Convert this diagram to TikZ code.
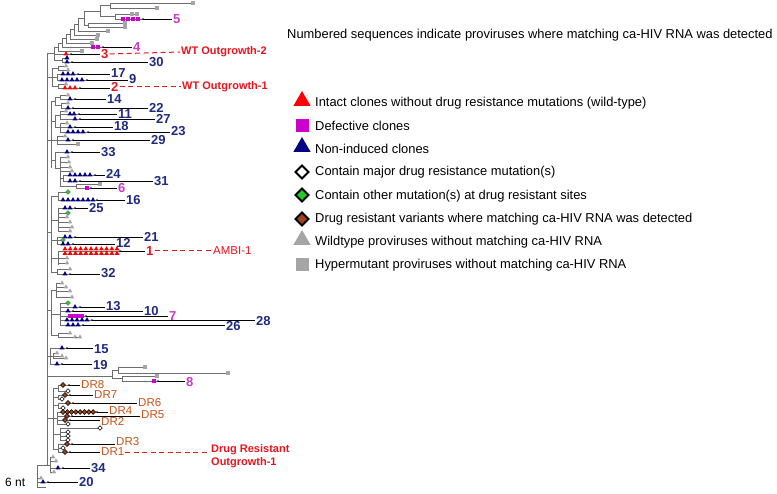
\documentclass[tikz,border=0pt]{standalone}
\usepackage{fontspec}
\setmainfont{Liberation Sans}
\usetikzlibrary{shapes.geometric}
\definecolor{treec}{HTML}{6E6E6E}
\definecolor{navyS}{HTML}{000080}
\definecolor{navyL}{HTML}{202A80}
\definecolor{redS}{HTML}{FF0000}
\definecolor{redL}{HTML}{E8141E}
\definecolor{magS}{HTML}{CC00CC}
\definecolor{magL}{HTML}{C83CC8}
\definecolor{grayS}{HTML}{A5A5A5}
\definecolor{greenS}{HTML}{22CC22}
\definecolor{brownS}{HTML}{A0421C}
\definecolor{drL}{HTML}{C4541B}
\newcommand\hb[3]{\draw[tree] (#1,#3)--(#2,#3);}
\newcommand\vb[3]{\draw[tree] (#1,#2)--(#1,#3);}
\newcommand\tip[4]{\draw[tree] (#1,#3)--(#2,#3); \node[#4] at (#2,#3) {};}
\newcommand\srow[6]{\draw[tree] (#1,#2)--(#5,#2); \foreach \xx in {#4} {\node[#3] at (\xx,#2) {};} \fill (#5,#2) circle (0.9pt); \draw[lead] (#5,#2)--(#6,#2);}
\begin{document}
\begin{tikzpicture}[x=1pt,y=-1pt,
  tree/.style={draw=treec,line width=0.6pt},
  lead/.style={draw=black,line width=0.9pt},
  reddash/.style={draw=redL,line width=1pt,dash pattern=on 5pt off 3.5pt},
  sym/.style={inner sep=0pt,outer sep=0pt},
  rt/.style={sym,regular polygon,regular polygon sides=3,minimum size=5.8pt,fill=redS},
  nt/.style={sym,regular polygon,regular polygon sides=3,minimum size=5.8pt,fill=navyS},
  gt/.style={sym,regular polygon,regular polygon sides=3,minimum size=5.2pt,fill=grayS},
  ms/.style={sym,rectangle,minimum size=3.8pt,fill=magS},
  gs/.style={sym,rectangle,minimum size=3.6pt,fill=grayS},
  wd/.style={sym,diamond,minimum size=4.6pt,draw=black,fill=white,line width=0.5pt},
  gd/.style={sym,diamond,minimum size=4.8pt,draw=black!60,fill=greenS,line width=0.4pt},
  bd/.style={sym,diamond,minimum size=4.8pt,draw=black,fill=brownS,line width=0.5pt},
  numl/.style={inner sep=1pt,font=\fontsize{13}{13}\selectfont\bfseries,text=navyL,anchor=west},
  mgl/.style={inner sep=1pt,font=\fontsize{13}{13}\selectfont\bfseries,text=magL,anchor=west},
  redn/.style={inner sep=1pt,font=\fontsize{13}{13}\selectfont\bfseries,text=redL,anchor=west},
  redl/.style={inner sep=1pt,font=\fontsize{11}{12}\selectfont\bfseries,text=redL,anchor=west},
  drl/.style={inner sep=1pt,font=\fontsize{11.5}{11.5}\selectfont,text=drL,anchor=west},
  legt/.style={inner sep=0pt,font=\fontsize{12.9}{13}\selectfont,anchor=west},
  lrt/.style={sym,regular polygon,regular polygon sides=3,minimum size=20pt,fill=redS},
  lnt/.style={sym,regular polygon,regular polygon sides=3,minimum size=20pt,fill=navyS},
  lgt/.style={sym,regular polygon,regular polygon sides=3,minimum size=20pt,fill=grayS},
  lms/.style={sym,rectangle,minimum size=13pt,fill=magS},
  lgs/.style={sym,rectangle,minimum size=13pt,fill=grayS},
  lwd/.style={sym,diamond,minimum size=13pt,draw=black,fill=white,line width=1.8pt},
  lgd/.style={sym,diamond,minimum size=13pt,draw=black,fill=greenS,line width=1.8pt},
  lbd/.style={sym,diamond,minimum size=13pt,draw=black,fill=brownS,line width=1.8pt}]
\useasboundingbox (0,0) rectangle (777,494);
\fill[white] (0,0) rectangle (777,494);

% ---------- title and legend
\node[legt] (title) at (287,35) {Numbered sequences indicate proviruses where matching ca-HIV RNA was detected};
\node[lrt] (s1) at (302,101) {}; \node[legt] (t1) at (315,103) {Intact clones without drug resistance mutations (wild-type)};
\node[lms] (s2) at (302,126) {}; \node[legt] (t2) at (315,126) {Defective clones};
\node[lnt] (s3) at (302,147) {}; \node[legt] (t3) at (315,149) {Non-induced clones};
\node[lwd] (s4) at (302,172) {}; \node[legt] (t4) at (315,172) {Contain major drug resistance mutation(s)};
\node[lgd] (s5) at (302,195) {}; \node[legt] (t5) at (315,196) {Contain other mutation(s) at drug resistant sites};
\node[lbd] (s6) at (302,219) {}; \node[legt] (t6) at (315,219) {Drug resistant variants where matching ca-HIV RNA was detected};
\node[lgt] (s7) at (302,240) {}; \node[legt] (t7) at (315,242) {Wildtype proviruses without matching ca-HIV RNA};
\node[lgs] (s8) at (302,265) {}; \node[legt] (t8) at (315,265) {Hypermutant proviruses without matching ca-HIV RNA};

% ---------- trunk and root
\vb{47}{53}{465}
\vb{37}{465}{487}
\hb{37}{47}{465}
\vb{50}{457}{472} \hb{47}{50}{465}
\tip{50}{53}{457}{gt} \tip{50}{56}{461}{gt}
\srow{50}{468}{nt}{58}{63}{90} \node[numl] (n34) at (90,468) {34};
\tip{50}{54}{472}{gt}
\tip{37}{41}{478}{gt}
\srow{37}{482}{nt}{43}{48}{78} \node[numl] (n20) at (78,482) {20};
\hb{37}{46}{487}
\node[inner sep=0pt,font=\fontsize{12}{12}\selectfont,anchor=west] (nt) at (5,482) {6 nt};

% ---------- top clade
\vb{110}{3}{8} \tip{110}{193}{3}{gs} \tip{110}{157}{8}{gs}
\vb{115}{14}{19} \draw[tree] (115,14)--(137,14); \node[gs] at (132,14){}; \node[gs] at (137,14){};
\srow{115}{19}{ms}{123,128,133,138}{143}{172} \node[mgl] (n5) at (172,19) {5};
\vb{100}{5.5}{16.5} \hb{100}{110}{5.5} \hb{100}{115}{16.5}
\vb{88}{23}{27} \tip{88}{125}{23}{gs} \tip{88}{125}{27}{gs}
\vb{84}{11}{25} \hb{84}{100}{11} \hb{84}{88}{25}
\vb{78}{18}{31} \hb{78}{84}{18} \tip{78}{108}{31}{gs}
\vb{74}{24.5}{35} \hb{74}{78}{24.5} \tip{74}{98}{35}{gs}
\vb{70}{29.75}{39} \hb{70}{74}{29.75} \tip{70}{97}{39}{gs}
\vb{66}{34.4}{43} \hb{66}{70}{34.4} \tip{66}{92}{43}{gs}
\vb{62}{38.7}{47} \hb{62}{66}{38.7}
\srow{62}{47}{ms}{93,98}{103}{132} \node[mgl] (n4) at (132,47) {4};
\vb{58}{42.85}{51} \hb{58}{62}{42.85} \tip{58}{82}{51}{gs}
\vb{62}{58}{62} \tip{62}{67}{58}{nt}
\srow{62}{62}{nt}{67}{72}{148} \node[numl] (n30) at (148,62) {30};
\srow{54}{54}{rt}{66}{71}{100} \node[redn] (n3) at (100,54) {3};
\node[redl] (wt2) at (180,52) {WT Outgrowth-2};
\draw[reddash] (n3.east) -- (wt2.west);
\vb{54}{46.9}{60} \hb{54}{58}{46.9} \hb{54}{62}{60} \hb{47}{54}{53}

% ---------- clade B
\hb{47}{52}{77} \vb{52}{68}{86}
\vb{58}{66}{70} \hb{52}{58}{68} \tip{58}{66}{66}{gt} \tip{58}{68}{70}{gt}
\vb{57}{74}{80} \hb{52}{57}{77}
\srow{57}{74}{nt}{63,68,73}{78}{110} \node[numl] (n17) at (110,73) {17};
\srow{57}{80}{nt}{62,67,72,77,82}{87}{128} \node[numl] (n9) at (128,79) {9};
\vb{58}{84}{88} \hb{52}{58}{86} \tip{58}{66}{84}{gt}
\srow{58}{88}{rt}{65,70,75}{80}{110} \node[redn] (n2) at (110,87) {2};
\node[redl] (wt1) at (181,87) {WT Outgrowth-1};
\draw[reddash] (n2.east) -- (wt1.west);

% ---------- clade C
\hb{47}{51}{140} \vb{51}{101}{168}
\vb{55}{97}{105.5} \hb{51}{55}{101}
\vb{60}{95}{99} \hb{55}{60}{97} \tip{60}{68}{95}{gt}
\srow{60}{99}{nt}{70}{75}{106} \node[numl] (n14) at (106,99) {14};
\vb{61}{103}{108} \hb{55}{61}{105.5} \tip{61}{68}{103}{gt}
\srow{61}{108}{nt}{68}{73}{148} \node[numl] (n22) at (148,108) {22};
\vb{55}{115}{127.5} \hb{51}{55}{121}
\vb{60}{111}{119} \hb{55}{60}{115} \tip{60}{66}{111}{gt}
\srow{60}{114}{nt}{70,74}{79}{117} \node[numl] (n11) at (117,114) {11};
\srow{60}{119}{nt}{75}{80}{155} \node[numl] (n27) at (155,119) {27};
\vb{60}{123}{132} \hb{55}{60}{127.5} \tip{60}{67}{123}{gt}
\srow{60}{127}{nt}{70}{75}{113} \node[numl] (n18) at (113,126) {18};
\srow{60}{132}{nt}{68,73,78,83}{88}{170} \node[numl] (n23) at (170,131) {23};
\vb{57}{136}{144} \hb{51}{57}{140} \tip{57}{65}{136}{gt}
\srow{57}{140}{nt}{68}{73}{150} \node[numl] (n29) at (150,140) {29};
\tip{57}{78}{144}{gs}
\vb{55}{152}{168} \hb{51}{55}{160}
\srow{55}{152}{nt}{67}{72}{100} \node[numl] (n33) at (100,152) {33};
\vb{60}{157}{186} \hb{55}{60}{168}
\tip{60}{68}{157}{gt} \tip{60}{69}{162}{gt} \tip{60}{70}{167}{gt} \tip{60}{72}{171}{gt}
\vb{63}{175}{181} \hb{60}{63}{178}
\srow{63}{175}{nt}{70,75,80,85,90}{95}{105} \node[numl] (n24) at (105,174) {24};
\srow{63}{181}{nt}{70,75}{80}{153} \node[numl] (n31) at (153,181) {31};
\vb{76}{184}{188} \hb{60}{76}{186} \tip{76}{100}{184}{gs}
\srow{76}{188}{ms}{87}{91}{117} \node[mgl] (n6) at (117,188) {6};

% ---------- clade D
\hb{47}{51}{232} \vb{51}{196}{272}
\vb{58}{192}{200} \hb{51}{58}{196} \tip{58}{68}{192}{gd}
\srow{58}{200}{nt}{63,68,73,78,83,88,93}{97}{125} \node[numl] (n16) at (125,200) {16};
\vb{58}{208}{231} \hb{51}{58}{220}
\srow{58}{208}{nt}{65,70}{75}{88} \node[numl] (n25) at (88,208) {25};
\tip{58}{68}{213}{gd} \tip{58}{67}{217}{gt} \tip{58}{70}{222}{gt} \tip{58}{72}{227}{gt} \tip{58}{70}{231}{gt}
\vb{57}{237}{244} \hb{51}{57}{240}
\srow{57}{237}{nt}{65,70}{75}{143} \node[numl] (n21) at (143,237) {21};
\tip{57}{63}{240}{gd}
\srow{57}{244}{nt}{63,68}{73}{115} \node[numl] (n12) at (115,243) {12};
\vb{58}{251}{265} \hb{51}{58}{258}
\draw[tree] (58,251)--(120,251);
\foreach \k in {0,...,10} {\node[rt] at (65+5.2*\k,249) {}; \node[rt] at (65+5.2*\k,253.5) {};}
\fill (120,251) circle (0.9pt); \draw[lead] (120,251)--(145,251);
\node[redn] (n1) at (145,251) {1};
\node[inner sep=1pt,font=\fontsize{11.5}{12}\selectfont,text=redL,anchor=west] (ambi) at (212,251) {AMBI-1};
\draw[reddash] (n1.east) -- (ambi.west);
\tip{58}{67}{258}{gt} \tip{58}{67}{263}{gt}
\vb{57}{269}{274} \hb{51}{57}{272} \tip{57}{70}{269}{gt}
\srow{57}{274}{nt}{65}{70}{100} \node[numl] (n32) at (100,273) {32};

% ---------- clade E
\hb{47}{51}{310} \vb{51}{290}{335}
\vb{56}{283}{297} \hb{51}{56}{290}
\tip{56}{62}{283}{gt} \tip{56}{66}{287}{gt} \tip{56}{70}{291}{gt} \tip{56}{72}{297}{gt}
\vb{60}{303}{325} \hb{51}{60}{314}
\tip{60}{68}{303}{gd}
\srow{60}{307}{nt}{75}{80}{105} \node[numl] (n13) at (105,306) {13};
\srow{60}{311}{nt}{68}{73}{143} \node[numl] (n10) at (143,311) {10};
\srow{60}{316}{ms}{70,74,78,82}{86}{168} \node[mgl] (n7) at (168,316) {7};
\srow{60}{320}{nt}{67,72,77,82,87}{92}{255} \node[numl] (n28) at (255,321) {28};
\srow{60}{325}{nt}{68,73,78}{83}{225} \node[numl] (n26) at (225,326) {26};
\vb{58}{333}{337} \hb{51}{58}{335}
\tip{58}{70}{333}{gt} \tip{58}{75}{337}{gt} \draw[tree] (75,337)--(80,337); \node[gt] at (80,337) {};

% ---------- clade F
\hb{47}{50}{356} \vb{50}{348}{364}
\srow{50}{348}{nt}{62}{67}{93} \node[numl] (n15) at (93,349) {15};
\vb{53}{353}{358} \hb{50}{53}{356}
\tip{53}{57}{353}{gt} \tip{53}{62}{356}{gt} \tip{53}{66}{358}{gt}
\srow{50}{364}{nt}{57}{62}{92} \node[numl] (n19) at (92,365) {19};

% ---------- clade G
\hb{47}{112}{376} \vb{112}{370}{378.5}
\vb{118}{367}{373} \hb{112}{118}{370}
\tip{118}{145}{367}{gs} \tip{118}{228}{373}{gs}
\vb{122}{376}{381} \hb{112}{122}{378.5}
\tip{122}{157}{376}{gs}
\srow{122}{381}{ms}{154}{158}{185} \node[mgl] (n8) at (185,382) {8};

% ---------- clade H (drug resistant)
\hb{47}{53}{418} \vb{53}{388}{449}
\vb{58}{385}{391} \hb{53}{58}{388}
\srow{58}{385}{bd}{63}{69}{80} \node[drl] (dr8) at (80,385) {DR8};
\tip{58}{68}{391}{wd}
\vb{58}{395}{399} \hb{53}{58}{397}
\srow{58}{395}{bd}{65}{70}{93} \node[drl] (dr7) at (93,395) {DR7};
\tip{58}{62}{399}{wd}
\vb{58}{403}{408} \hb{53}{58}{405}
\srow{58}{403}{bd}{68}{73}{137} \node[drl] (dr6) at (137,403) {DR6};
\tip{58}{63}{408}{wd}
\vb{57}{412}{424} \hb{53}{57}{418}
\srow{57}{412}{bd}{63,67.3,71.6,75.9,80.2,84.5,88.8,93.1}{97}{108} \node[drl] (dr4) at (108,411) {DR4};
\srow{57}{416}{bd}{67}{72}{140} \node[drl] (dr5) at (140,415) {DR5};
\srow{57}{420}{bd}{65}{70}{100} \node[drl] (dr2) at (100,421) {DR2};
\tip{57}{68}{424}{wd}
\vb{60}{428}{440} \hb{53}{60}{434}
\tip{60}{100}{428}{wd} \tip{60}{68}{432}{wd} \tip{60}{68}{436}{wd} \tip{60}{68}{440}{wd}
\vb{58}{444}{452} \hb{53}{58}{449}
\srow{58}{444}{bd}{67}{72}{115} \node[drl] (dr3) at (115,442) {DR3};
\tip{58}{63}{448}{wd}
\srow{58}{452}{bd}{65}{70}{100} \node[drl] (dr1) at (100,452) {DR1};
\node[redl] (dro1) at (210,450) {Drug Resistant};
\node[redl] (dro2) at (210,463) {Outgrowth-1};
\draw[reddash] (dr1.east) -- (dro1.west |- dr1.east);
\end{tikzpicture}
\end{document}
